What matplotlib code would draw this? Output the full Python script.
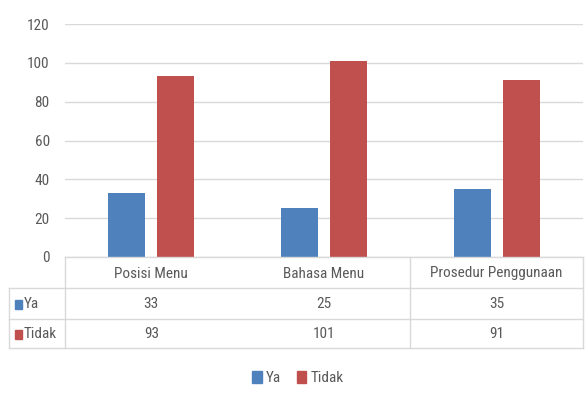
import numpy as np
import matplotlib.pyplot as plt
from matplotlib import font_manager
from matplotlib.patches import Patch
from matplotlib.transforms import Affine2D

categories = ['Posisi Menu', 'Bahasa Menu', 'Prosedur Penggunaan']
ya = [33, 25, 35]
tidak = [93, 101, 91]
series_names = ['Ya', 'Tidak']
yticks = [0, 20, 40, 60, 80, 100, 120]

blue = '#4F81BD'
red = '#C0504D'
grey_txt = '#595959'
grid_col = '#D9D9D9'

# narrow font close to Calibri if there is one
names = {f.name for f in font_manager.fontManager.ttflist}
fam = 'DejaVu Sans'
for cand in ['Liberation Sans Narrow', 'Roboto Condensed', 'Open Sans Condensed', 'Lato', 'Roboto']:
    if cand in names:
        fam = cand
        break
plt.rcParams['font.family'] = [fam, 'DejaVu Sans']
fs = 11

W, H = 587, 399
fig = plt.figure(figsize=(W / 100, H / 100), dpi=100)
# pixel coords (origin top-left) -> figure
px = Affine2D().scale(1 / W, -1 / H).translate(0, 1) + fig.transFigure

# axes: x 65..583 px, y 24 (120) .. 257 (0) px
ax = fig.add_axes([65 / W, 1 - 257 / H, (583 - 65) / W, (257 - 24) / H])

x = np.arange(len(categories))
bw = 0.215
ax.bar(x - 0.142, ya, bw, color=blue, zorder=3)
ax.bar(x + 0.142, tidak, bw, color=red, zorder=3)

ax.set_xlim(-0.5, 2.5)
ax.set_ylim(0, 120)
ax.set_yticks(yticks)
ax.set_xticks([])
ax.tick_params(axis='y', length=0, pad=11, labelsize=fs, labelcolor=grey_txt)
ax.grid(axis='y', color=grid_col, linewidth=1, zorder=0)
for s in ax.spines.values():
    s.set_visible(False)

# data table below the plot
x_left, x_lab, x_right = 9, 65, 583
rows_y = [257, 288, 319, 348]
col_edges = [x_lab, 410, x_right]  # no divider drawn between the first two columns
for i, yy in enumerate(rows_y):
    x0 = x_lab if i == 0 else x_left
    fig.add_artist(plt.Line2D([x0, x_right], [yy, yy], transform=px, color=grid_col, lw=1))
fig.add_artist(plt.Line2D([x_left, x_left], [rows_y[1], rows_y[3]], transform=px, color=grid_col, lw=1))
for xe in col_edges:
    fig.add_artist(plt.Line2D([xe, xe], [rows_y[0], rows_y[3]], transform=px, color=grid_col, lw=1))

col_w = (x_right - x_lab) / len(categories)
centers = [x_lab + col_w * (i + 0.5) for i in range(len(categories))]
for cx, cat in zip(centers, categories):
    fig.text(cx, (rows_y[0] + rows_y[1]) / 2 + 1, cat, transform=px, ha='center', va='center',
             fontsize=fs, color=grey_txt)
for r, (name, col, vals) in enumerate([(series_names[0], blue, ya), (series_names[1], red, tidak)]):
    yc = (rows_y[r + 1] + rows_y[r + 2]) / 2
    fig.add_artist(plt.Rectangle((15, yc - 4), 7, 9, transform=px, color=col))
    fig.text(24, yc, name, transform=px, ha='left', va='center', fontsize=fs, color=grey_txt)
    for cx, v in zip(centers, vals):
        fig.text(cx, yc, str(v), transform=px, ha='center', va='center', fontsize=fs, color=grey_txt)

handles = [Patch(color=blue), Patch(color=red)]
fig.legend(handles, series_names, loc='center', bbox_to_anchor=(298 / W, 1 - 378 / H),
           ncol=2, frameon=False, fontsize=fs, labelcolor=grey_txt,
           handlelength=0.6, handleheight=0.8, handletextpad=0.3, columnspacing=1.0)

fig.savefig('out.png', dpi=100)
